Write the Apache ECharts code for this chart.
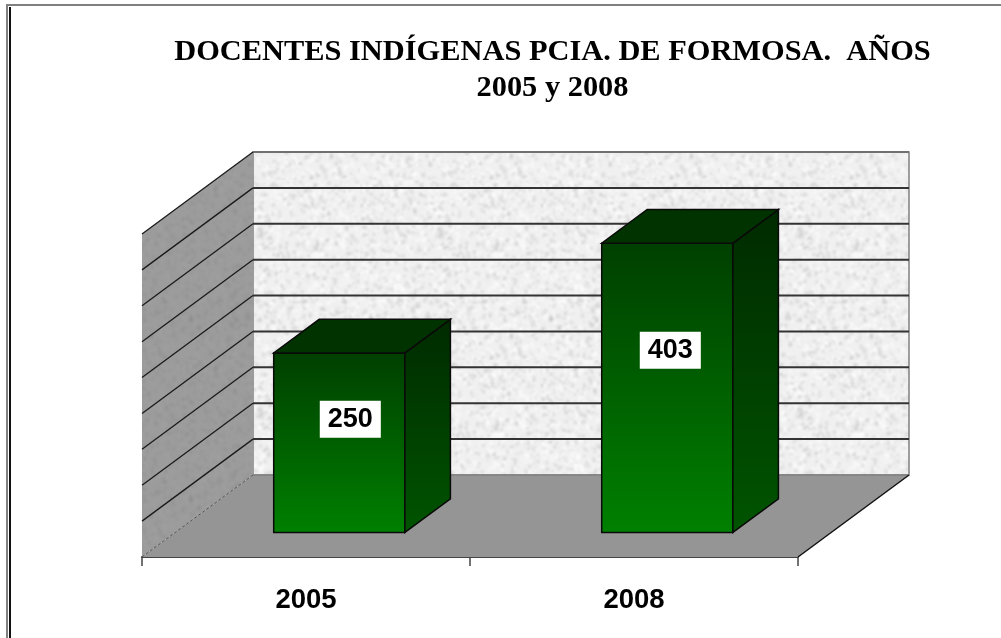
<!DOCTYPE html>
<html>
<head>
<meta charset="utf-8">
<title>Docentes indígenas</title>
<script src="https://cdn.jsdelivr.net/npm/echarts@6/dist/echarts.min.js"></script>
<style>
  html, body { margin: 0; padding: 0; background: #fff; }
  #main { width: 1001px; height: 638px; }
</style>
</head>
<body>
<div id="main"></div>
<script>
// datos
var years = ['2005', '2008'];
var docentes = [250, 403];
var yTicks = [0, 50, 100, 150, 200, 250, 300, 350, 400, 450];

// profundidad de la caja 3D en pixeles
var DEPTH_X = 111;
var DEPTH_Y = -82;
// la barra ocupa este tramo de la profundidad
var BAR_D0 = 0.3;
var BAR_D1 = 0.71;
var BAR_WIDTH = 0.4;
// corrimiento de las etiquetas blancas
var labelShift = [11, 3];

// textura granito para las paredes
function makeNoise(base, dark, light) {
  var c = document.createElement('canvas');
  c.width = 180;
  c.height = 180;
  var ctx = c.getContext('2d');
  ctx.fillStyle = base;
  ctx.fillRect(0, 0, 180, 180);
  var seed = 12345;
  function next() {
    seed = (seed * 1103515245 + 12345) % 2147483648;
    return seed / 2147483648;
  }
  for (var i = 0; i < 2600; i++) {
    ctx.fillStyle = next() > 0.5 ? dark : light;
    var s = 1 + next() * 3;
    ctx.fillRect(next() * 180, next() * 180, s, s * (0.5 + next()));
  }
  // suavizar
  var out = document.createElement('canvas');
  out.width = 180;
  out.height = 180;
  var octx = out.getContext('2d');
  octx.fillStyle = base;
  octx.fillRect(0, 0, 180, 180);
  octx.filter = 'blur(0.8px)';
  octx.drawImage(c, 0, 0);
  return out;
}
var backTexture = makeNoise('#f0f0f0', 'rgba(175,175,175,0.26)', 'rgba(255,255,255,0.55)');
var sideTexture = makeNoise('#9c9c9c', 'rgba(130,130,130,0.2)', 'rgba(172,172,172,0.2)');

function poly(points, style) {
  return { type: 'polygon', shape: { points: points }, style: style };
}
function line(a, b, color, width, dash) {
  return {
    type: 'line',
    shape: { x1: a[0], y1: a[1], x2: b[0], y2: b[1] },
    style: { stroke: color, lineWidth: width, lineDash: dash || null }
  };
}
function shift(p, d) {
  return [p[0] + DEPTH_X * d, p[1] + DEPTH_Y * d];
}

// paredes, piso y lineas de grilla
function renderBox(params, api) {
  var band = api.size([1, 0])[0];
  var left = api.coord([0, 0])[0] - band / 2;
  var right = api.coord([1, 0])[0] + band / 2;
  var y0 = api.coord([0, 0])[1];
  var yMax = api.coord([0, yTicks[yTicks.length - 1]])[1];
  var a = [left, y0], b = [right, y0], t = [left, yMax], u = [right, yMax];
  var children = [
    poly([shift(t, 1), shift(u, 1), shift(b, 1), shift(a, 1)], { fill: { image: backTexture, repeat: 'repeat' }, stroke: '#808080', lineWidth: 1.5 }),
    poly([t, shift(t, 1), shift(a, 1), a], { fill: { image: sideTexture, repeat: 'repeat' } }),
    poly([a, shift(a, 1), shift(b, 1), b], { fill: '#959595' })
  ];
  yTicks.forEach(function (v, i) {
    var y = api.coord([0, v])[1];
    var p = [left, y];
    if (i > 0) {
      children.push(line(shift(p, 1), [right + DEPTH_X, y + DEPTH_Y], i === yTicks.length - 1 ? '#707070' : '#333', 2));
      children.push(line(p, shift(p, 1), '#1a1a1a', 1.3));
    }
  });
  children.push(line(a, shift(a, 1), '#555', 1, [3, 2]));
  children.push(line(shift(a, 1), shift(b, 1), '#777', 1));
  children.push(line(b, shift(b, 1), '#111', 1.5));
  return { type: 'group', children: children };
}

// barras con sus tres caras
function renderBar(params, api) {
  var idx = api.value(0);
  var val = api.value(1);
  var bandW = api.size([1, 0])[0];
  var c = api.coord([idx, 0]);
  var top = api.coord([idx, val])[1];
  var half = bandW * BAR_WIDTH / 2;
  var l = [c[0] - half, c[1]], r = [c[0] + half, c[1]];
  var tl = [l[0], top], tr = [r[0], top];
  var fbl = shift(l, BAR_D0), fbr = shift(r, BAR_D0), ftl = shift(tl, BAR_D0), ftr = shift(tr, BAR_D0);
  var bbr = shift(r, BAR_D1), btl = shift(tl, BAR_D1), btr = shift(tr, BAR_D1);
  var labelY = api.coord([idx, val * 0.63])[1] + DEPTH_Y * BAR_D0;
  return {
    type: 'group',
    children: [
      poly([fbl, fbr, ftr, ftl], {
        fill: new echarts.graphic.LinearGradient(0, 0, 0, 1, [
          { offset: 0, color: '#003f00' },
          { offset: 1, color: '#008000' }
        ]),
        stroke: '#0a0a0a', lineWidth: 1.5
      }),
      poly([fbr, bbr, btr, ftr], {
        fill: new echarts.graphic.LinearGradient(0, 0, 0, 1, [
          { offset: 0, color: '#002a00' },
          { offset: 1, color: '#005400' }
        ]),
        stroke: '#0a0a0a', lineWidth: 1.5
      }),
      poly([ftl, ftr, btr, btl], { fill: '#003300', stroke: '#0a0a0a', lineWidth: 1.5 }),
      {
        type: 'text',
        style: {
          x: (fbl[0] + fbr[0]) / 2 + labelShift[params.dataIndex],
          y: labelY,
          text: String(val),
          align: 'center',
          verticalAlign: 'middle',
          font: 'bold 27px "Liberation Sans", Arial, sans-serif',
          fill: '#000',
          backgroundColor: '#fff',
          padding: [5, 8, 5, 8]
        }
      }
    ]
  };
}

var barData = years.map(function (y, i) { return [i, docentes[i]]; });

var chart = echarts.init(document.getElementById('main'));
chart.setOption({
  animation: false,
  backgroundColor: '#fff',
  title: {
    text: 'DOCENTES INDÍGENAS PCIA. DE FORMOSA.  AÑOS\n2005 y 2008',
    left: 547.5,
    top: 29,
    textAlign: 'center',
    textStyle: {
      fontFamily: '"Liberation Serif", "Times New Roman", serif',
      fontSize: 30.4,
      fontWeight: 'bold',
      color: '#000',
      lineHeight: 36
    }
  },
  grid: { left: 142, top: 234, width: 656, height: 323, containLabel: false },
  xAxis: {
    type: 'category',
    data: years,
    axisLine: { lineStyle: { color: '#444', width: 2 } },
    axisTick: { show: true, length: 9, lineStyle: { color: '#444', width: 1.5 } },
    axisLabel: {
      margin: 29,
      color: '#000',
      fontFamily: '"Liberation Sans", Arial, sans-serif',
      fontWeight: 'bold',
      fontSize: 27.5
    }
  },
  yAxis: { type: 'value', min: 0, max: 450, interval: 50, show: false },
  series: [
    { type: 'custom', silent: true, z: 1, data: [0], renderItem: renderBox, encode: { x: 0 } },
    { type: 'custom', silent: true, z: 2, data: barData, renderItem: renderBar, encode: { x: 0, y: 1 } }
  ],
  graphic: [
    { type: 'line', shape: { x1: 6, y1: 5, x2: 1001, y2: 5 }, style: { stroke: '#808080', lineWidth: 2 } },
    { type: 'line', shape: { x1: 7, y1: 5, x2: 7, y2: 638 }, style: { stroke: '#808080', lineWidth: 2 } },
    { type: 'line', shape: { x1: 10, y1: 7, x2: 10, y2: 638 }, style: { stroke: '#111', lineWidth: 2 } }
  ]
});
</script>
</body>
</html>
